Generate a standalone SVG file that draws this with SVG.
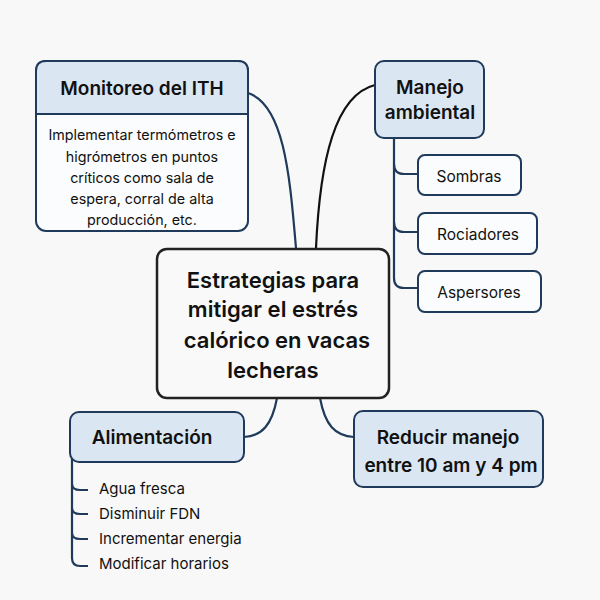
<svg xmlns="http://www.w3.org/2000/svg" width="600" height="600" viewBox="0 0 600 600">
<style>
.box{fill:#dbe6f3;stroke:#1f3a5a;stroke-width:2}
.wbox{fill:#fbfcfd;stroke:#1f3a5a;stroke-width:2}
.c{fill:none;stroke:#1f3a5a;stroke-width:2.2}
.t{font-family:"Inter","Liberation Sans",sans-serif;fill:#111;text-anchor:middle}
.l{font-family:"Inter","Liberation Sans",sans-serif;fill:#111;font-size:15px}
</style>
<rect width="600" height="600" fill="#f8f8f8"/>
<g id="connectors">
<path class="c" d="M248 93 C285 105 290 180 296 248"/>
<path class="c" d="M375 85 C335 95 320 160 316 248" style="stroke:#111"/>
<path class="c" d="M277 398 C272 425 262 436 244 437"/>
<path class="c" d="M320 398 C325 425 335 436 354 437"/>
<path class="c" d="M394 138 L394 278 Q394 288 404 288 L418 288"/>
<path class="c" d="M394 164 Q394 174 404 174 L418 174"/>
<path class="c" d="M394 222 Q394 232 404 232 L418 232"/>
<path class="c" d="M72 458 L72 558 Q72 566 80 566 L88 566"/>
<path class="c" d="M72 484 Q72 490 80 490 L88 490"/>
<path class="c" d="M72 508 Q72 514 80 514 L88 514"/>
<path class="c" d="M72 533 Q72 539 80 539 L88 539"/>
</g>
<g id="center">
<rect x="157" y="249" width="232" height="149" rx="10" fill="#f9f9f9" stroke="#222" stroke-width="2.5"/>
<text class="t" font-size="22" font-weight="600"><tspan x="273" y="288">Estrategias para</tspan><tspan x="273" y="317">mitigar el estrés</tspan><tspan x="277" y="348">calórico en vacas</tspan><tspan x="273" y="378">lecheras</tspan></text>
</g>
<g id="monitoreo">
<rect class="wbox" x="36" y="61" width="212" height="170" rx="10"/>
<path class="box" d="M46 61 H238 Q248 61 248 71 V114 H36 V71 Q36 61 46 61 Z"/>
<text class="t" x="142" y="95" font-size="19" font-weight="600">Monitoreo del ITH</text>
<text class="t" font-size="14.3"><tspan x="142" y="140">Implementar termómetros e</tspan><tspan x="142" y="162">higrómetros en puntos</tspan><tspan x="142" y="183">críticos como sala de</tspan><tspan x="142" y="204">espera, corral de alta</tspan><tspan x="142" y="225">producción, etc.</tspan></text>
</g>
<g id="manejo">
<rect class="box" x="375" y="61" width="109" height="77" rx="9"/>
<text class="t" font-size="19" font-weight="600"><tspan x="430" y="94">Manejo</tspan><tspan x="430" y="119">ambiental</tspan></text>
</g>
<g id="sombras"><rect class="wbox" x="418" y="155" width="103" height="40" rx="7"/><text class="t" x="469" y="182" font-size="15.5">Sombras</text></g>
<g id="rociadores"><rect class="wbox" x="418" y="213" width="119" height="41" rx="7"/><text class="t" x="478" y="240" font-size="15.5">Rociadores</text></g>
<g id="aspersores"><rect class="wbox" x="418" y="271" width="123" height="41" rx="7"/><text class="t" x="479" y="298" font-size="15.5">Aspersores</text></g>
<g id="alimentacion">
<rect class="box" x="70" y="412" width="174" height="50" rx="9"/>
<text class="t" x="152" y="444" font-size="19" font-weight="600">Alimentación</text>
<text class="l" x="99" y="494">Agua fresca</text>
<text class="l" x="99" y="519">Disminuir FDN</text>
<text class="l" x="99" y="544">Incrementar energia</text>
<text class="l" x="99" y="569">Modificar horarios</text>
</g>
<g id="reducir">
<rect class="box" x="354" y="411" width="189" height="76" rx="9"/>
<text class="t" font-size="19" font-weight="600"><tspan x="448" y="444">Reducir manejo</tspan><tspan x="451" y="472">entre 10 am y 4 pm</tspan></text>
</g>
</svg>
